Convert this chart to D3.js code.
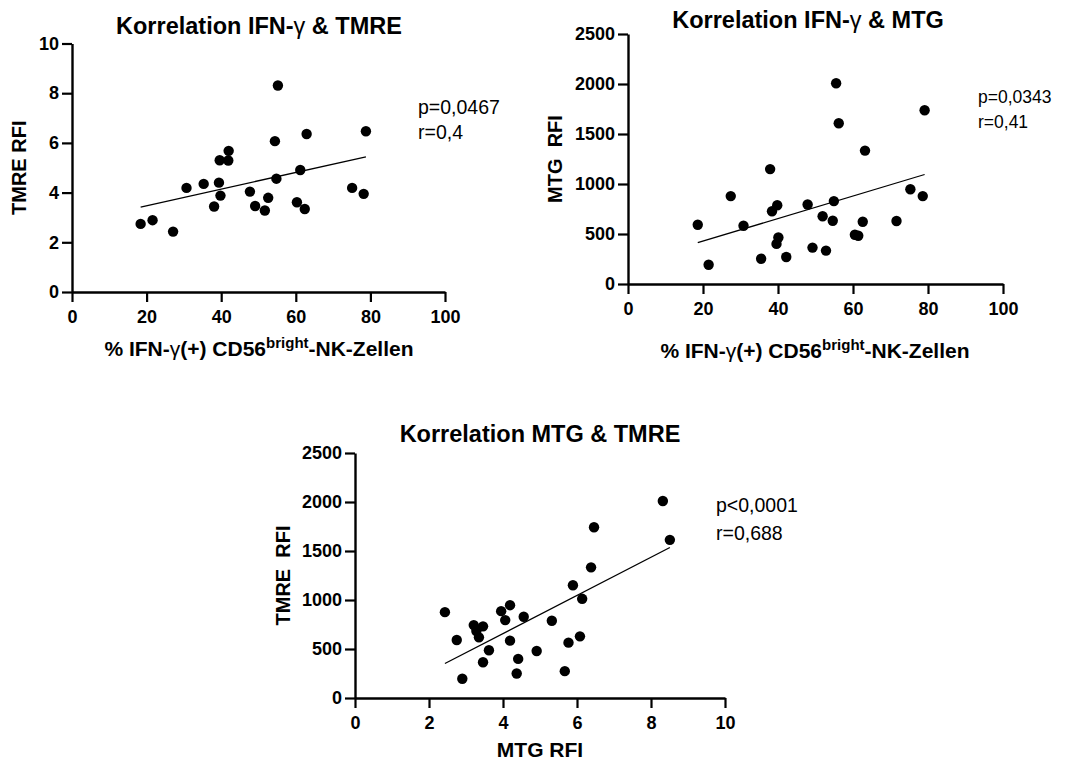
<!DOCTYPE html>
<html>
<head>
<meta charset="utf-8">
<script src="https://cdn.jsdelivr.net/npm/d3@7"></script>
<style>
  html, body { margin: 0; padding: 0; background: #fff; }
  svg { display: block; font-family: "Liberation Sans", Arial, Helvetica, sans-serif; }
</style>
</head>
<body>
<svg id="chart" width="1068" height="760"></svg>
<script>
// ---------- Data ----------
// Panel 1: IFN-gamma vs TMRE
const p1X = [18.4, 21.6, 27.1, 30.7, 35.3, 38.1, 39.4, 39.8, 39.6, 41.9, 42.0, 47.7, 49.1, 52.6, 51.7, 54.8, 54.4, 55.2, 60.3, 61.2, 62.4, 62.9, 75.1, 78.2, 78.8];
const p1Y = [2.74, 2.89, 2.43, 4.19, 4.35, 3.44, 4.40, 3.88, 5.30, 5.29, 5.68, 4.04, 3.46, 3.79, 3.28, 4.56, 6.07, 8.31, 3.61, 4.91, 3.34, 6.36, 4.19, 3.95, 6.47];
const fit1X = [18.4, 78.8];
const fit1Y = [3.42, 5.44];
const p1XTicks = [0, 20, 40, 60, 80, 100];
const p1YTicks = [0, 2, 4, 6, 8, 10];
const p1Stats = ["p=0,0467", "r=0,4"];

// Panel 2: IFN-gamma vs MTG
const p2X = [18.6, 21.5, 27.4, 30.8, 35.5, 37.9, 38.4, 39.8, 40.1, 39.6, 42.2, 47.9, 49.2, 51.9, 52.8, 54.6, 54.9, 55.5, 56.2, 60.5, 61.4, 62.6, 63.2, 71.6, 75.3, 78.6, 79.1];
const p2Y = [593, 192, 879, 583, 253, 1149, 728, 788, 465, 401, 270, 795, 364, 677, 334, 633, 829, 2008, 1607, 492, 482, 623, 1334, 630, 947, 879, 1738];
const fit2X = [18.6, 79.1];
const fit2Y = [414, 1095];
const p2XTicks = [0, 20, 40, 60, 80, 100];
const p2YTicks = [0, 500, 1000, 1500, 2000, 2500];
const p2Stats = ["p=0,0343", "r=0,41"];

// Panel 3: MTG vs TMRE
const p3X = [2.43, 2.75, 2.90, 3.21, 3.28, 3.35, 3.46, 3.46, 3.62, 3.95, 4.06, 4.19, 4.19, 4.41, 4.37, 4.56, 4.91, 5.32, 5.67, 5.77, 5.89, 6.08, 6.14, 6.38, 6.46, 8.32, 8.51];
const p3Y = [876, 592, 196, 744, 683, 619, 731, 365, 487, 886, 795, 947, 585, 399, 250, 829, 480, 788, 274, 565, 1150, 629, 1012, 1333, 1742, 2010, 1614];
const fit3X = [2.43, 8.51];
const fit3Y = [352, 1536];
const p3XTicks = [0, 2, 4, 6, 8, 10];
const p3YTicks = [0, 500, 1000, 1500, 2000, 2500];
const p3Stats = ["p<0,0001", "r=0,688"];

// ---------- Drawing ----------
const svg = d3.select("#chart");
const FONT = "'Liberation Sans', Arial, Helvetica, sans-serif";

function panel(cfg) {
  const g = svg.append("g");
  const x = d3.scaleLinear().domain(cfg.xDomain).range([cfg.left, cfg.right]);
  const y = d3.scaleLinear().domain(cfg.yDomain).range([cfg.bottom, cfg.top]);

  const xa = g.append("g").attr("transform", `translate(0,${cfg.bottom})`)
    .call(d3.axisBottom(x).tickValues(cfg.xTicks).tickSize(10).tickPadding(8).tickSizeOuter(0).tickFormat(d3.format("d")));
  const ya = g.append("g").attr("transform", `translate(${cfg.left},0)`)
    .call(d3.axisLeft(y).tickValues(cfg.yTicks).tickSize(10).tickPadding(3).tickSizeOuter(0).tickFormat(d3.format("d")));
  [xa, ya].forEach(a => {
    a.select(".domain").attr("stroke", "#000").attr("stroke-width", 2.4);
    a.selectAll(".tick line").attr("stroke", "#000").attr("stroke-width", 2.2);
    a.selectAll(".tick text").attr("fill", "#000").attr("font-size", 18).attr("font-weight", "bold")
      .attr("font-family", FONT);
  });

  g.append("line")
    .attr("x1", x(cfg.fitX[0])).attr("y1", y(cfg.fitY[0]))
    .attr("x2", x(cfg.fitX[1])).attr("y2", y(cfg.fitY[1]))
    .attr("stroke", "#000").attr("stroke-width", 1.3);

  g.selectAll("circle.pt").data(cfg.xs.map((v, i) => [v, cfg.ys[i]])).enter()
    .append("circle").attr("class", "pt")
    .attr("cx", d => x(d[0])).attr("cy", d => y(d[1])).attr("r", 5.2).attr("fill", "#000");

  const t = g.append("text").attr("x", cfg.titleX).attr("y", cfg.titleY)
    .attr("text-anchor", "middle").attr("font-size", 23.5).attr("font-weight", "bold");
  cfg.title.forEach(p => t.append("tspan").text(p[0]).attr("font-weight", p[1] ? "normal" : "bold"));

  const xt = g.append("text").attr("x", cfg.xTitleX).attr("y", cfg.xTitleY)
    .attr("text-anchor", "middle").attr("font-size", 21).attr("font-weight", "bold");
  cfg.xTitle.forEach(p => {
    const s = xt.append("tspan").text(p[0]);
    if (p[1] === "g") s.attr("font-weight", "normal");
    if (p[1] === "sup") s.attr("font-size", 15).attr("dy", -8);
    if (p[1] === "after") s.attr("dy", 8);
  });

  g.append("text").attr("transform", `translate(${cfg.yTitleX},${(cfg.top + cfg.bottom) / 2}) rotate(-90)`)
    .attr("text-anchor", "middle").attr("font-size", 20).attr("font-weight", "bold")
    .attr("xml:space", "preserve").style("white-space", "pre").text(cfg.yTitle);

  cfg.stats.forEach((s, i) => {
    g.append("text").attr("x", cfg.statX).attr("y", cfg.statY + i * cfg.statGap)
      .attr("font-size", cfg.statSize).attr("fill", "#000").text(s);
  });
}

panel({
  xs: p1X, ys: p1Y, fitX: fit1X, fitY: fit1Y,
  xDomain: [0, 100], yDomain: [0, 10], xTicks: p1XTicks, yTicks: p1YTicks,
  left: 72, right: 445, top: 43.5, bottom: 292,
  title: [["Korrelation IFN-"], ["γ", true], [" & TMRE"]], titleX: 259, titleY: 34,
  xTitle: [["% IFN-"], ["γ", "g"], ["(+) CD56"], ["bright", "sup"], ["-NK-Zellen", "after"]], xTitleX: 259, xTitleY: 356,
  yTitle: "TMRE RFI", yTitleX: 26,
  stats: p1Stats, statX: 418, statY: 114, statGap: 25, statSize: 19.5
});

panel({
  xs: p2X, ys: p2Y, fitX: fit2X, fitY: fit2Y,
  xDomain: [0, 100], yDomain: [0, 2500], xTicks: p2XTicks, yTicks: p2YTicks,
  left: 628, right: 1003, top: 34, bottom: 284,
  title: [["Korrelation IFN-"], ["γ", true], [" & MTG"]], titleX: 808, titleY: 28,
  xTitle: [["% IFN-"], ["γ", "g"], ["(+) CD56"], ["bright", "sup"], ["-NK-Zellen", "after"]], xTitleX: 815, xTitleY: 358,
  yTitle: "MTG  RFI", yTitleX: 562,
  stats: p2Stats, statX: 978, statY: 103, statGap: 25, statSize: 17.5
});

panel({
  xs: p3X, ys: p3Y, fitX: fit3X, fitY: fit3Y,
  xDomain: [0, 10], yDomain: [0, 2500], xTicks: p3XTicks, yTicks: p3YTicks,
  left: 355, right: 725, top: 453, bottom: 698,
  title: [["Korrelation MTG & TMRE"]], titleX: 540, titleY: 442,
  xTitle: [["MTG RFI"]], xTitleX: 540, xTitleY: 757,
  yTitle: "TMRE  RFI", yTitleX: 290,
  stats: p3Stats, statX: 716, statY: 512, statGap: 28, statSize: 19.5
});
</script>
</body>
</html>
